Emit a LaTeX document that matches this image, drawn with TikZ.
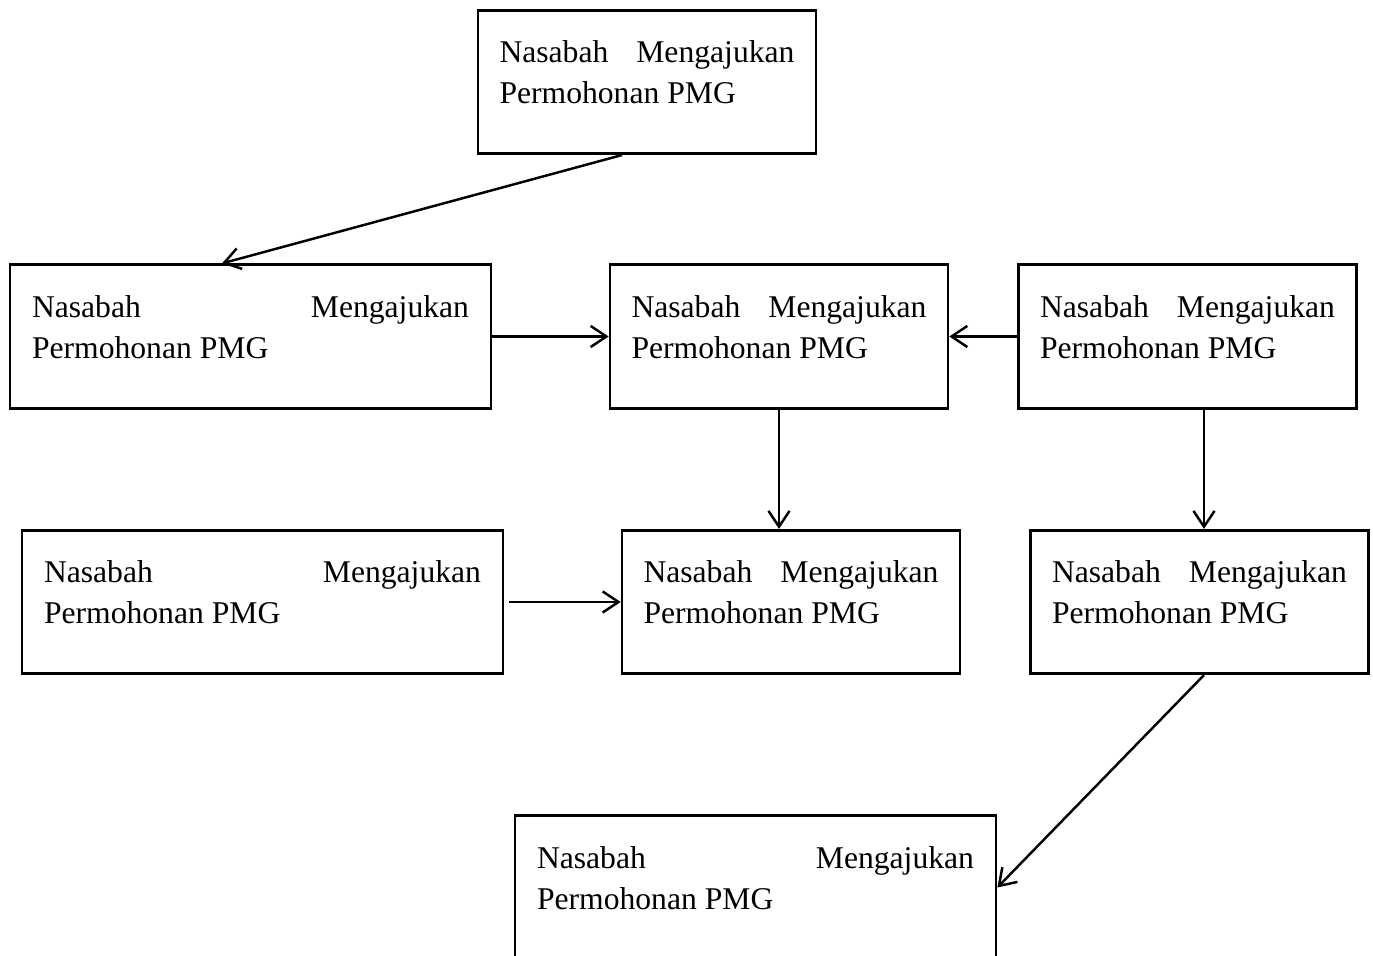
\documentclass[tikz,border=0pt]{standalone}
\usepackage{fontspec}
\setmainfont{Liberation Serif}
\usetikzlibrary{arrows.meta}
\tolerance=10000
\hbadness=10000
\hyphenpenalty=10000
\exhyphenpenalty=10000

\tikzset{
    box/.style={draw, line width=1.5pt, rectangle, align=justify,
        text width=5.9cm, minimum width=6.76cm, minimum height=2.87cm,
        inner xsep=0.43cm, font=\fontsize{18}{23.3}\selectfont,
        execute at end node={\rule[-11pt]{0pt}{11pt}}},
    widebox/.style={box, text width=8.74cm, minimum width=9.62cm},
    link/.style={line width=1.4pt, -{Straight Barb[length=9pt, width=12pt]}}
}

\begin{document}
\begin{tikzpicture}
    \useasboundingbox (0,0) rectangle (27.46,19.12);

    \node[box] (A) at (12.94,17.48) {Nasabah Mengajukan Permohonan PMG};
    \node[widebox] (B) at (5.01,12.39) {Nasabah Mengajukan Permohonan PMG};
    \node[box] (C) at (15.58,12.39) {Nasabah Mengajukan Permohonan PMG};
    \node[box] (D) at (23.75,12.39) {Nasabah Mengajukan Permohonan PMG};
    \node[widebox] (E) at (5.25,7.08) {Nasabah Mengajukan Permohonan PMG};
    \node[box] (F) at (15.82,7.08) {Nasabah Mengajukan Permohonan PMG};
    \node[box] (G) at (23.99,7.08) {Nasabah Mengajukan Permohonan PMG};
    \node[widebox] (H) at (15.11,1.37) {Nasabah Mengajukan Permohonan PMG};

    % A -> B
    \draw[link] ([xshift=-0.5cm]A.south) -- ([xshift=-0.57cm]B.north);

    % B -> C, D -> C
    \draw[link] (B.east) -- (C.west);
    \draw[link] (D.west) -- (C.east);

    % C -> F
    \draw[link] (C.south) -- (C.south |- F.north);

    % D -> G
    \coordinate (d) at ([xshift=0.33cm]D.south);
    \draw[link] (d) -- (d |- G.north);

    % E -> F
    \draw[link] ([xshift=0.1cm]E.east) -- (F.west);

    % G -> H
    \draw[link] ([xshift=0.09cm]G.south) -- (H.east);
\end{tikzpicture}
\end{document}
